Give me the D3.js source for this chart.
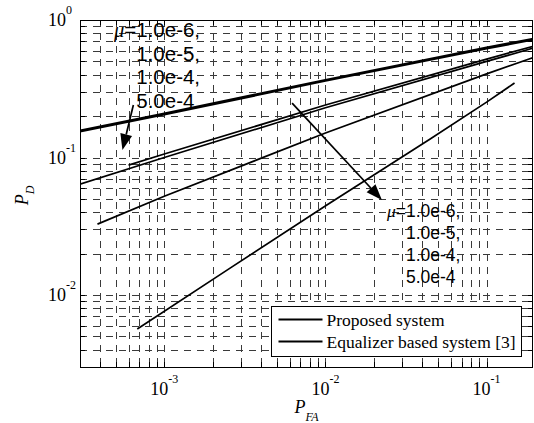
<!DOCTYPE html>
<meta charset='utf-8'>
<style>
	body { margin: 0; background: #fff; }
	svg { display: block; }
	.serif { font-family: 'Liberation Serif', 'Times New Roman', serif; }
	.sans { font-family: 'Liberation Sans', Arial, sans-serif; }
</style>
<body>
	<div id='container'></div>
<script src='https://d3js.org/d3.v7.min.js'></script>
<script>
	// values (P_FA on x, P_D on y)
	const proposedPfa = [ 3e-4, 1e-3, 1e-2, 0.1, 0.2 ];
	const proposedPd = [ 0.156, 0.207, 0.364, 0.625, 0.73 ];

	const eqMu1e6Pfa = [ 6e-4, 1e-3, 1e-2, 0.1, 0.2 ];
	const eqMu1e6Pd = [ 0.088, 0.106, 0.241, 0.52, 0.65 ];

	const eqMu1e5Pfa = [ 3e-4, 1e-3, 1e-2, 0.1, 0.2 ];
	const eqMu1e5Pd = [ 0.064, 0.100, 0.23, 0.50, 0.63 ];

	const eqMu1e4Pfa = [ 3.85e-4, 1e-3, 1e-2, 0.1, 0.2 ];
	const eqMu1e4Pd = [ 0.0328, 0.0523, 0.151, 0.406, 0.54 ];

	const eqMu5e4Pfa = [ 6.8e-4, 2.56e-3, 1.02e-2, 4.44e-2, 0.1, 0.149 ];
	const eqMu5e4Pd = [ 5.66e-3, 0.0157, 0.0452, 0.136, 0.253, 0.348 ];

	const xTicks = [ 1e-3, 1e-2, 1e-1 ];
	const yTicks = [ 1e-2, 1e-1, 1 ];
	const muLabels = [ '1.0e-6,', '1.0e-5,', '1.0e-4,', '5.0e-4' ];
	const legendNames = [ 'Proposed system', 'Equalizer based system [3]' ];

	// annotation anchors, in data units
	const noteTop = { pfa: 6.7e-4, pd: 0.752 };
	const noteBottom = { pfa: 0.0316, pd: 0.0369 };
	const arrows = [
		{ from: [ 6.43e-4, 0.241 ], to: [ 5.5e-4, 0.1134 ] },
		{ from: [ 6.21e-3, 0.249 ], to: [ 0.0224, 0.0491 ] },
	];

	const W = 534, H = 423;
	const margin = { top: 20, left: 80, right: 1, bottom: 56 };

	const xScale = d3.scaleLog()
		.domain( [ 3e-4, 0.194 ] )
		.range( [ margin.left, W - margin.right ] );
	const yScale = d3.scaleLog()
		.domain( [ 3e-3, 1 ] )
		.range( [ H - margin.bottom, margin.top ] );

	const [ x0, x1 ] = xScale.range();
	const [ y0, y1 ] = yScale.range();

	const svg = d3.select( '#container' )
		.append( 'svg' )
		.attr( 'width', W )
		.attr( 'height', H );

	svg.append( 'rect' ).attr( 'width', W ).attr( 'height', H ).attr( 'fill', '#fff' );

	svg.append( 'defs' ).append( 'clipPath' )
		.attr( 'id', 'plot' )
		.append( 'rect' )
			.attr( 'x', x0 ).attr( 'y', y1 )
			.attr( 'width', x1 - x0 ).attr( 'height', y0 - y1 );

	// minor + major grid, matlab style dashes
	const minorVals = ( lo, hi ) => {
		let out = [];
		for ( let e = -4; e <= 0; e++ )
			for ( let m = 1; m <= 9; m++ ) {
				let v = m * Math.pow( 10, e );
				if ( v >= lo * 1.0001 && v <= hi * 0.9999 ) out.push( v );
			}
		return out;
	};
	const xGrid = minorVals( ...xScale.domain() );
	const yGrid = minorVals( ...yScale.domain() ).concat( [ 1 ] );

	const grid = svg.append( 'g' )
		.attr( 'stroke', '#3a3a3a' )
		.attr( 'stroke-width', 1 )
		.attr( 'stroke-dasharray', '7,6' );

	grid.selectAll( '.vx' )
		.data( xGrid )
		.enter().append( 'line' )
			.attr( 'x1', d => Math.round( xScale( d ) ) + 0.5 )
			.attr( 'x2', d => Math.round( xScale( d ) ) + 0.5 )
			.attr( 'y1', y1 ).attr( 'y2', y0 );

	grid.selectAll( '.hy' )
		.data( yGrid )
		.enter().append( 'line' )
			.attr( 'y1', d => Math.round( yScale( d ) ) + 0.5 )
			.attr( 'y2', d => Math.round( yScale( d ) ) + 0.5 )
			.attr( 'x1', x0 ).attr( 'x2', x1 );

	// inner tick marks
	const ticks = svg.append( 'g' ).attr( 'stroke', '#000' ).attr( 'stroke-width', 1 );
	xGrid.forEach( d => {
		let x = Math.round( xScale( d ) ) + 0.5;
		ticks.append( 'line' ).attr( 'x1', x ).attr( 'x2', x ).attr( 'y1', y0 ).attr( 'y2', y0 - 5 );
		ticks.append( 'line' ).attr( 'x1', x ).attr( 'x2', x ).attr( 'y1', y1 ).attr( 'y2', y1 + 5 );
	} );
	yGrid.forEach( d => {
		let y = Math.round( yScale( d ) ) + 0.5;
		ticks.append( 'line' ).attr( 'y1', y ).attr( 'y2', y ).attr( 'x1', x0 ).attr( 'x2', x0 + 5 );
		ticks.append( 'line' ).attr( 'y1', y ).attr( 'y2', y ).attr( 'x1', x1 ).attr( 'x2', x1 - 5 );
	} );

	// curves
	const series = [
		{ pfa: eqMu1e6Pfa, pd: eqMu1e6Pd, w: 1.7 },
		{ pfa: eqMu1e5Pfa, pd: eqMu1e5Pd, w: 1.7 },
		{ pfa: eqMu1e4Pfa, pd: eqMu1e4Pd, w: 1.7 },
		{ pfa: eqMu5e4Pfa, pd: eqMu5e4Pd, w: 1.7 },
		{ pfa: proposedPfa, pd: proposedPd, w: 3 },
	];
	const curve = d3.line()
		.x( d => xScale( d[0] ) )
		.y( d => yScale( d[1] ) );

	svg.append( 'g' )
		.attr( 'clip-path', 'url(#plot)' )
		.selectAll( 'path' )
		.data( series )
		.enter().append( 'path' )
			.attr( 'fill', 'none' )
			.attr( 'stroke', '#000' )
			.attr( 'stroke-width', d => d.w )
			.attr( 'd', d => curve( d.pfa.map( ( p, i ) => [ p, d.pd[i] ] ) ) );

	// frame
	svg.append( 'rect' )
		.attr( 'x', x0 + 0.5 ).attr( 'y', y1 + 0.5 )
		.attr( 'width', x1 - x0 - 1 ).attr( 'height', y0 - y1 )
		.attr( 'fill', 'none' )
		.attr( 'stroke', '#000' );

	// tick labels, 10 with exponent
	const expOf = v => Math.round( Math.log10( v ) );
	let xl = svg.append( 'g' ).attr( 'class', 'serif' );
	xTicks.forEach( v => {
		let t = xl.append( 'text' )
			.attr( 'x', xScale( v ) )
			.attr( 'y', y0 + 28 )
			.attr( 'text-anchor', 'middle' )
			.style( 'font-size', '18px' );
		t.append( 'tspan' ).text( '10' );
		t.append( 'tspan' ).attr( 'dy', -12 ).style( 'font-size', '12px' ).text( expOf( v ) );
	} );
	let yl = svg.append( 'g' ).attr( 'class', 'serif' );
	yTicks.forEach( v => {
		let t = yl.append( 'text' )
			.attr( 'x', x0 - 32 )
			.attr( 'y', yScale( v ) + 6 )
			.style( 'font-size', '18px' );
		t.append( 'tspan' ).text( '10' );
		t.append( 'tspan' ).attr( 'dy', -12 ).style( 'font-size', '12px' ).text( expOf( v ) );
	} );

	// axis titles
	let xt = svg.append( 'text' )
		.attr( 'class', 'serif' )
		.attr( 'x', ( x0 + x1 ) / 2 )
		.attr( 'y', y0 + 46 )
		.attr( 'text-anchor', 'middle' )
		.style( 'font-size', '18px' )
		.style( 'font-style', 'italic' );
	xt.append( 'tspan' ).text( 'P' );
	xt.append( 'tspan' ).attr( 'dy', 8 ).style( 'font-size', '12px' ).text( 'FA' );

	let yt = svg.append( 'text' )
		.attr( 'class', 'serif' )
		.attr( 'transform', `translate( 28, ${ ( y0 + y1 ) / 2 + 2 } ) rotate( -90 )` )
		.attr( 'text-anchor', 'middle' )
		.style( 'font-size', '18px' )
		.style( 'font-style', 'italic' );
	yt.append( 'tspan' ).text( 'P' );
	yt.append( 'tspan' ).attr( 'dy', 6 ).style( 'font-size', '12px' ).text( 'D' );

	// mu annotations
	const muNote = ( anchor, size, step ) => {
		let x = xScale( anchor.pfa ), y = yScale( anchor.pd );
		let g = svg.append( 'g' );
		let mu = g.append( 'text' )
			.attr( 'x', x ).attr( 'y', y )
			.attr( 'text-anchor', 'end' )
			.style( 'font-size', `${size}px` );
		mu.append( 'tspan' ).attr( 'class', 'serif' ).style( 'font-style', 'italic' ).text( 'μ' );
		mu.append( 'tspan' ).attr( 'class', 'sans' ).text( '=' );
		g.selectAll( '.mu' )
			.data( muLabels )
			.enter().append( 'text' )
				.attr( 'class', 'sans' )
				.attr( 'x', x )
				.attr( 'y', ( d, i ) => y + i * step )
				.style( 'font-size', `${size}px` )
				.text( d => d );
	};
	muNote( noteTop, 20.5, 23.5 );
	muNote( noteBottom, 17.5, 22 );

	// arrows with filled heads
	arrows.forEach( a => {
		let [ ax, ay ] = [ xScale( a.from[0] ), yScale( a.from[1] ) ];
		let [ bx, by ] = [ xScale( a.to[0] ), yScale( a.to[1] ) ];
		let len = Math.hypot( bx - ax, by - ay );
		let ux = ( bx - ax ) / len, uy = ( by - ay ) / len;
		let hl = 16, hw = 6;
		let cx = bx - ux * hl, cy = by - uy * hl;
		svg.append( 'line' )
			.attr( 'x1', ax ).attr( 'y1', ay )
			.attr( 'x2', cx ).attr( 'y2', cy )
			.attr( 'stroke', '#000' ).attr( 'stroke-width', 1.7 );
		svg.append( 'path' )
			.attr( 'd', `M${bx},${by}L${cx - uy * hw},${cy + ux * hw}L${cx + uy * hw},${cy - ux * hw}Z` )
			.attr( 'fill', '#000' );
	} );

	// legend
	const legend = svg.append( 'g' ).attr( 'transform', 'translate( 271.5, 306.5 )' );
	legend.append( 'rect' )
		.attr( 'width', 250 ).attr( 'height', 50 )
		.attr( 'fill', '#fff' ).attr( 'stroke', '#000' );
	legend.selectAll( '.item' )
		.data( legendNames )
		.enter().append( 'g' )
			.attr( 'transform', ( d, i ) => `translate( 0, ${ 13 + i * 22 } )` )
			.each( function( d ) {
				let g = d3.select( this );
				g.append( 'line' )
					.attr( 'x1', 7 ).attr( 'x2', 51 )
					.attr( 'stroke', '#000' ).attr( 'stroke-width', 2 );
				g.append( 'text' )
					.attr( 'class', 'serif' )
					.attr( 'x', 55 ).attr( 'y', 6 )
					.style( 'font-size', '17.5px' )
					.text( d );
			} );
</script>
</body>
